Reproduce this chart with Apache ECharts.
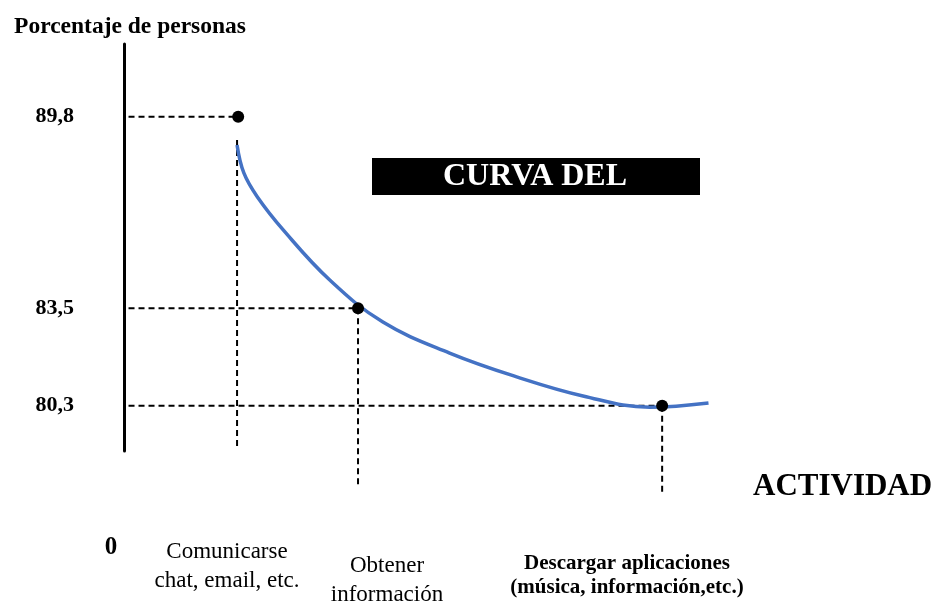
<!DOCTYPE html>
<html>
<head>
<meta charset="utf-8">
<script src="https://cdn.jsdelivr.net/npm/echarts@6/dist/echarts.min.js"></script>
<style>html,body{margin:0;padding:0;background:#fff}#c{width:938px;height:601px}</style>
</head>
<body>
<div id="c"></div>
<script>
// ---- data ----
var categorias = ['Comunicarse\nchat, email, etc.', 'Obtener\ninformación', 'Descargar aplicaciones\n(música, información,etc.)'];
var posicionX = [1.01, 2.07, 4.76];          // place of each activity on the schematic x scale
var porcentajes = [89.8, 83.5, 80.3];        // porcentaje de personas
var etiquetasY = [89.8, 83.5, 80.3];         // tick labels shown on the y axis
// schematic blue curve
var curvaX = [1.00, 1.06, 1.18, 1.41, 1.82, 2.29, 2.88, 3.48, 4.06, 4.65, 5.17];
var curvaY = [88.87, 87.95, 87.16, 86.07, 84.43, 83.05, 82.03, 81.24, 80.62, 80.25, 80.39];
// dashed guide extents
var guiaXInicio = 0.04;
var guiaVX = [1.00, 2.07, 4.76];
var guiaVTope = [89.03, 83.5, 80.3];
var guiaVFondo = [78.84, 77.62, 77.46];

var serif = '"Liberation Serif","Times New Roman",serif';
var chart = echarts.init(document.getElementById('c'), null, {renderer: 'canvas'});

var series = [];
series.push({
  type: 'line', name: 'curva', smooth: 0.4, showSymbol: false, silent: true,
  data: curvaX.map(function (x, i) { return [x, curvaY[i]]; }),
  lineStyle: {color: '#4472C4', width: 3.5}, z: 3
});
var dash = {color: '#000', width: 2, type: [6, 4]};
porcentajes.forEach(function (v, i) {
  series.push({
    type: 'line', showSymbol: false, silent: true, clip: false,
    data: [[guiaXInicio, v], [posicionX[i], v]], lineStyle: dash, z: 2
  });
  series.push({
    type: 'line', showSymbol: false, silent: true, clip: false,
    data: [[guiaVX[i], guiaVTope[i]], [guiaVX[i], guiaVFondo[i]]], lineStyle: dash, z: 2
  });
});
series.push({
  type: 'scatter', symbolSize: 12, silent: true, clip: false,
  itemStyle: {color: '#000', opacity: 1}, z: 5,
  data: posicionX.map(function (x, i) { return [x, porcentajes[i]]; })
});

var catPos = [[227, 566, 23, 'normal', 29], [387, 580, 23, 'normal', 29], [627, 576, 21, 'bold', 24]];

var option = {
  animation: false,
  backgroundColor: '#fff',
  grid: {left: 124, right: 0, top: 44, bottom: 150, containLabel: false, outerBoundsMode: 'none'},
  xAxis: {type: 'value', min: 0, max: 7.2, show: false},
  yAxis: {
    type: 'value', min: 78.81, max: 92.19,
    name: 'Porcentaje de personas', nameLocation: 'end', nameGap: 5,
    nameTextStyle: {fontFamily: serif, fontWeight: 'bold', fontSize: 23.5, color: '#000', padding: [0, 0, 0, 12]},
    axisLine: {show: true, lineStyle: {color: '#000', width: 3}},
    axisTick: {show: false},
    splitLine: {show: false},
    axisLabel: {
      customValues: etiquetasY, margin: 50,
      fontFamily: serif, fontWeight: 'bold', fontSize: 22, color: '#000',
      formatter: function (v) { return String(v).replace('.', ','); }
    }
  },
  graphic: [
    {type: 'rect', shape: {x: 372, y: 158, width: 328, height: 37}, style: {fill: '#000'}},
    {type: 'text', x: 535, y: 177, style: {text: 'CURVA DEL', fill: '#fff', font: 'bold 32px ' + serif, textAlign: 'center', textVerticalAlign: 'middle'}},
    {type: 'text', x: 753, y: 487, style: {text: 'ACTIVIDAD', fill: '#000', font: 'bold 31px ' + serif, textAlign: 'left', textVerticalAlign: 'middle'}},
    {type: 'text', x: 111, y: 548, style: {text: '0', fill: '#000', font: 'bold 25px ' + serif, textAlign: 'center', textVerticalAlign: 'middle'}}
  ].concat(categorias.map(function (c, i) {
    var p = catPos[i];
    return {type: 'text', x: p[0], y: p[1], style: {text: c, fill: '#000', fontFamily: serif, fontSize: p[2], fontWeight: p[3], lineHeight: p[4], textAlign: 'center', textVerticalAlign: 'middle'}};
  })),
  series: series
};
chart.setOption(option);
</script>
</body>
</html>
